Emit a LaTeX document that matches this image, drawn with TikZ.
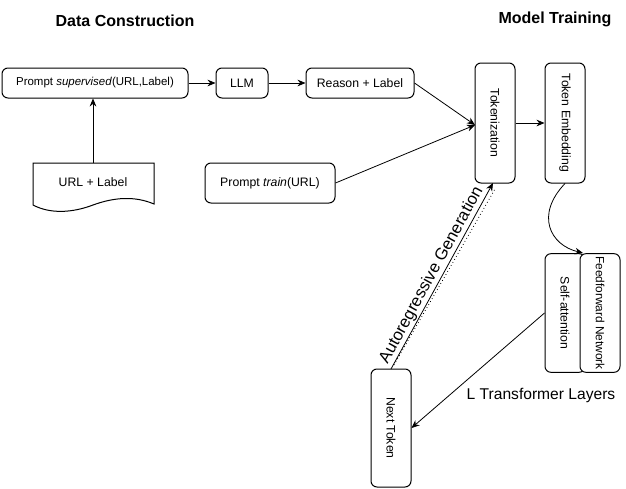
\documentclass[tikz,border=0pt]{standalone}
\usepackage{fontspec}
\setmainfont{Liberation Sans}
\usetikzlibrary{arrows.meta,calc}
\begin{document}
\begin{tikzpicture}[x=0.75pt,y=-0.75pt,
  box/.style={draw,rounded corners=4.5pt,line width=0.75pt,fill=white,inner sep=0pt,font=\fontsize{9.2}{11}\selectfont},
  vbox/.style={box,minimum width=30pt,minimum height=90pt},
  conn/.style={line width=0.6pt,-{Stealth[length=6pt,width=5pt]}},
  title/.style={font=\bfseries\fontsize{12}{14}\selectfont}]
\useasboundingbox (0,0) rectangle (626,489);
\node[title] (t1) at (125,21) {Data Construction};
\node[title] (t2) at (555,19) {Model Training};
\node[box,minimum width=139.5pt,minimum height=22.5pt,font=\fontsize{8.6}{10}\selectfont] (ps) at (95,83) {Prompt \textit{supervised}(URL,Label)};
\node[box,minimum width=39pt,minimum height=22.5pt] (llm) at (242,83) {LLM};
\node[box,minimum width=81pt,minimum height=22.5pt] (rl) at (360,83) {Reason + Label};
\node[box,minimum width=97.5pt,minimum height=30pt] (pt) at (270,183) {Prompt \textit{train}(URL)};
% document shape
\draw[line width=0.75pt,fill=white] (33,163) -- (154,163) -- (154,204)
  .. controls (135,196) and (115,197) .. (93,205)
  .. controls (72,213) and (50,214) .. (33,205) -- cycle;
\node[font=\fontsize{9.2}{11}\selectfont] (ul) at (93,182) {URL + Label};
\coordinate (ultop) at (93,163);
\node[vbox] (tok) at (495,123) {\rotatebox{-90}{Tokenization}};
\node[vbox] (emb) at (565,123) {\rotatebox{-90}{Token Embedding}};
\node[box,minimum width=30pt,minimum height=89pt] (sa) at (565,313) {\rotatebox{-90}{Self-attention}};
\node[box,minimum width=30pt,minimum height=89pt,font=\fontsize{8.9}{10}\selectfont] (ff) at (600,313) {\rotatebox{-90}{Feedforward Network}};
\node[vbox,minimum height=88.5pt] (nt) at (391,428) {\rotatebox{-90}{Next Token}};
\node[font=\fontsize{11.7}{13}\selectfont] (lt) at (541,395) {L Transformer Layers};
% connectors
\draw[conn] (ps) -- (llm);
\draw[conn] (llm) -- (rl);
\draw[conn] (ultop) -- (ps.south -| ultop);
\coordinate (tin) at (475,125);
\draw[conn] (rl.east) -- (tin);
\draw[conn] (pt.east) -- (tin);
\draw[conn] (tok) -- (emb);
\coordinate (ffin) at (583,253);
\draw[conn] (emb.south) .. controls (535,215) and (550,245) .. (ffin);
\draw[conn] (sa.west) -- (nt.east);
\coordinate (ntop) at (391,369);
\coordinate (tbot) at (493,183);
\draw[conn] (ntop) -- node[sloped,above,inner sep=1pt,pos=0.48,font=\fontsize{12.5}{14}\selectfont] {Autoregressive Generation} (tbot);
\draw[line width=0.6pt,dotted] ($(ntop)+(3,-4)$) -- ($(tbot)+(2,6)$);
\end{tikzpicture}
\end{document}
